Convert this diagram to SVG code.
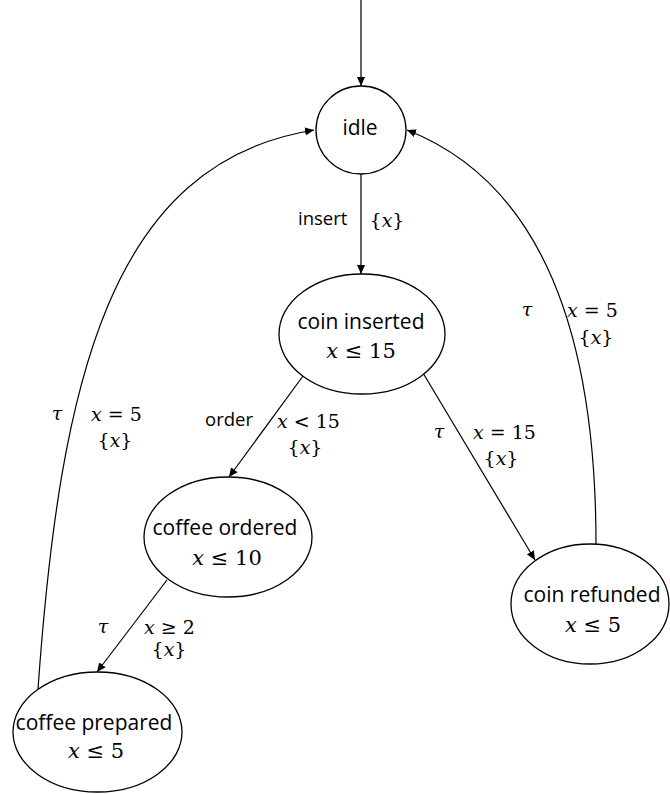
<svg xmlns="http://www.w3.org/2000/svg" width="670" height="794" viewBox="0 0 670 794">
<style>
.st{fill:#fff;stroke:#000;stroke-width:1.3}
.lbl{font-family:"Open Sans","Liberation Sans",sans-serif;fill:#000}
.nm{font-family:"Open Sans","Liberation Sans",sans-serif;font-size:21px;fill:#000;text-anchor:middle}
.m{font-family:"DejaVu Serif","Liberation Serif",serif;fill:#000}
.ms{font-size:21px;text-anchor:middle}
.ml{font-size:19px}
.i{font-style:italic}
.c{fill:none;stroke:#000;stroke-width:1.2}
</style>
<defs>
<marker id="ah" viewBox="0 0 10 10" refX="10" refY="5" markerWidth="9" markerHeight="9" markerUnits="userSpaceOnUse" orient="auto">
<path d="M0,0.5 L10,5 L0,9.5 z" fill="#000"/>
</marker>
</defs>
<g id="connectors">
<path class="c" d="M361,0 L361,86" marker-end="url(#ah)"/>
<path class="c" d="M361,174 L361,274" marker-end="url(#ah)"/>
<path class="c" d="M303,376 L229,477" marker-end="url(#ah)"/>
<path class="c" d="M423,373 L535,560" marker-end="url(#ah)"/>
<path class="c" d="M167,580 L97,672" marker-end="url(#ah)"/>
<path class="c" d="M38,689 C60,380 110,163 314,130" marker-end="url(#ah)"/>
<path class="c" d="M596,544 C596,294 519,174 407,130" marker-end="url(#ah)"/>
</g>
<g id="labels">
<text class="lbl" x="298" y="225" font-size="18.5">insert</text>
<text class="m ml" x="387" y="227" text-anchor="middle">{<tspan class="i">x</tspan>}</text>
<text class="lbl" x="205" y="426" font-size="18.5">order</text>
<text class="m ml" x="277" y="428"><tspan class="i">x</tspan> &lt; 15</text>
<text class="m ml" x="305" y="454" text-anchor="middle">{<tspan class="i">x</tspan>}</text>
<text class="m ml i" x="439" y="438" text-anchor="middle">τ</text>
<text class="m ml" x="473" y="439"><tspan class="i">x</tspan> = 15</text>
<text class="m ml" x="501" y="465" text-anchor="middle">{<tspan class="i">x</tspan>}</text>
<text class="m ml i" x="527" y="316" text-anchor="middle">τ</text>
<text class="m ml" x="567" y="317"><tspan class="i">x</tspan> = 5</text>
<text class="m ml" x="596" y="344" text-anchor="middle">{<tspan class="i">x</tspan>}</text>
<text class="m ml i" x="57" y="420" text-anchor="middle">τ</text>
<text class="m ml" x="91" y="421"><tspan class="i">x</tspan> = 5</text>
<text class="m ml" x="115" y="447" text-anchor="middle">{<tspan class="i">x</tspan>}</text>
<text class="m ml i" x="103" y="633" text-anchor="middle">τ</text>
<text class="m ml" x="144" y="634"><tspan class="i">x</tspan> ≥ 2</text>
<text class="m ml" x="169" y="656" text-anchor="middle">{<tspan class="i">x</tspan>}</text>
</g>
<g id="idle">
<ellipse class="st" cx="361" cy="130" rx="45" ry="44"/>
<text class="nm" x="360" y="135" font-size="23">idle</text>
</g>
<g id="coin-inserted">
<ellipse class="st" cx="362" cy="334" rx="83" ry="60"/>
<text class="nm" x="361" y="329">coin inserted</text>
<text class="m ms" x="361" y="358"><tspan class="i">x</tspan> ≤ 15</text>
</g>
<g id="coffee-ordered">
<ellipse class="st" cx="228" cy="537" rx="84" ry="60"/>
<text class="nm" x="225" y="535">coffee ordered</text>
<text class="m ms" x="227" y="565"><tspan class="i">x</tspan> ≤ 10</text>
</g>
<g id="coin-refunded">
<ellipse class="st" cx="590" cy="604" rx="79" ry="60"/>
<text class="nm" x="592" y="602">coin refunded</text>
<text class="m ms" x="593" y="632"><tspan class="i">x</tspan> ≤ 5</text>
</g>
<g id="coffee-prepared">
<ellipse class="st" cx="97.5" cy="732" rx="84.5" ry="60"/>
<text class="nm" x="94" y="730">coffee prepared</text>
<text class="m ms" x="96" y="758"><tspan class="i">x</tspan> ≤ 5</text>
</g>
</svg>
